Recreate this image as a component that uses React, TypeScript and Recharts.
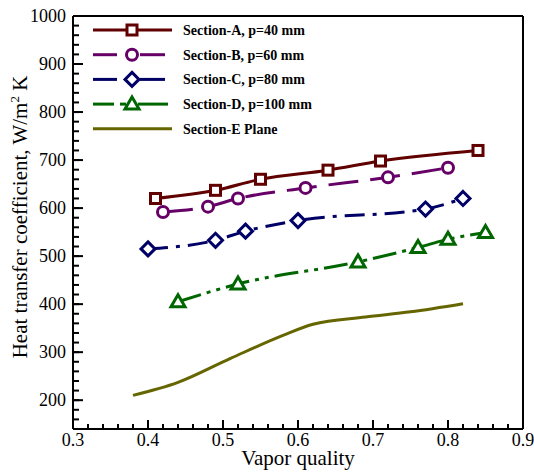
import React from "react"
import { LineChart, Line, XAxis, YAxis, ReferenceLine } from "recharts"

// axis ticks
const xMajor = [0.3, 0.4, 0.5, 0.6, 0.7, 0.8, 0.9]
const yMajor = [200, 300, 400, 500, 600, 700, 800, 900, 1000]

// Section-A, p=40 mm
const aX = [0.41, 0.49, 0.55, 0.64, 0.71, 0.84]
const aY = [620, 637, 660, 679, 698, 720]
// Section-B, p=60 mm
const bX = [0.42, 0.48, 0.52, 0.61, 0.72, 0.8]
const bY = [592, 603, 620, 642, 664, 684]
// Section-C, p=80 mm
const cX = [0.4, 0.49, 0.53, 0.6, 0.77, 0.82]
const cY = [515, 533, 552, 574, 598, 620]
// Section-D, p=100 mm
const dX = [0.44, 0.52, 0.68, 0.76, 0.8, 0.85]
const dY = [405, 442, 488, 518, 535, 549]
// Section-E Plane
const eX = [0.38, 0.44, 0.51, 0.58, 0.62, 0.69, 0.75, 0.82]
const eY = [210, 237, 287, 335, 358, 373, 384, 401]

const FONT = "Liberation Serif, Times New Roman, serif"

const zip = (xs: number[], ys: number[]) => xs.map((x, i) => ({ x, y: ys[i] }))

const series = [
  { name: "Section-A, p=40 mm", color: "#600000", dash: undefined, marker: "square", data: zip(aX, aY) },
  { name: "Section-B, p=60 mm", color: "#660066", dash: "30 12", marker: "circle", data: zip(bX, bY) },
  { name: "Section-C, p=80 mm", color: "#000066", dash: "20 8 4 8", marker: "diamond", data: zip(cX, cY) },
  { name: "Section-D, p=100 mm", color: "#006600", dash: "24 6 4 6 4 6", marker: "triangle", data: zip(dX, dY) },
  { name: "Section-E Plane", color: "#666600", dash: undefined, marker: "none", data: zip(eX, eY) },
]

// minor ticks in between the labelled ones
const xTicks: number[] = []
for (let i = 0; i <= 30; i++) xTicks.push(+(0.3 + i * 0.02).toFixed(2))
const yTicks: number[] = []
for (let v = 160; v <= 1000; v += 20) yTicks.push(v)

const isMajorX = (v: number) => xMajor.some((m) => Math.abs(m - v) < 1e-6)
const isMajorY = (v: number) => yMajor.includes(v)

function Marker({ cx, cy, shape, color }: { cx: number; cy: number; shape: string; color: string }) {
  if (cx == null || cy == null) return null
  if (shape === "square")
    return <rect x={cx - 5} y={cy - 5} width={10} height={10} fill="#fff" stroke={color} strokeWidth={3} />
  if (shape === "circle") return <circle cx={cx} cy={cy} r={5.5} fill="#fff" stroke={color} strokeWidth={3} />
  if (shape === "diamond")
    return (
      <polygon
        points={`${cx},${cy - 7} ${cx + 7},${cy} ${cx},${cy + 7} ${cx - 7},${cy}`}
        fill="#fff"
        stroke={color}
        strokeWidth={3}
      />
    )
  if (shape === "triangle")
    return (
      <polygon
        points={`${cx},${cy - 7} ${cx + 7},${cy + 5} ${cx - 7},${cy + 5}`}
        fill="#fff"
        stroke={color}
        strokeWidth={3}
      />
    )
  return null
}

// inward tick lines come from tickSize < 0; the renderer adds the longer major ones and the labels
// eslint-disable-next-line @typescript-eslint/no-explicit-any
const renderXTick = (props: any) => {
  const { x, y, payload, index } = props
  if (!isMajorX(payload.value)) return <g key={`xt-${index}`} />
  return (
    <g key={`xt-${index}`}>
      <line x1={x} x2={x} y1={y} y2={y - 9} stroke="#000" strokeWidth={2} />
      <text x={x} y={y + 17} textAnchor="middle" fontSize={18} fontFamily={FONT} fill="#000">
        {payload.value.toFixed(1)}
      </text>
    </g>
  )
}

// eslint-disable-next-line @typescript-eslint/no-explicit-any
const renderYTick = (props: any) => {
  const { x, y, payload, index } = props
  if (!isMajorY(payload.value)) return <g key={`yt-${index}`} />
  return (
    <g key={`yt-${index}`}>
      <line x1={x} x2={x + 10} y1={y} y2={y} stroke="#000" strokeWidth={2} />
      <text x={x - 7} y={y + 6} textAnchor="end" fontSize={18} fontFamily={FONT} fill="#000">
        {payload.value}
      </text>
    </g>
  )
}

// legend and axis titles, drawn over the chart
const Overlay = () => (
  <svg width={534} height={472} style={{ position: "absolute", left: 0, top: 0, pointerEvents: "none" }}>
    <g transform="translate(88, 18)">
      {series.map((s, i) => {
        const cy = 12 + i * 24.7
        const tri = s.marker === "triangle"
        return (
          <g key={s.name}>
            {s.marker === "none" || s.marker === "square" ? (
              <line x1={5} x2={84} y1={cy} y2={cy} stroke={s.color} strokeWidth={3} />
            ) : (
              <>
                <line x1={5} x2={tri ? 26 : 29} y1={cy} y2={cy} stroke={s.color} strokeWidth={3} />
                {tri && <line x1={32} x2={38} y1={cy} y2={cy} stroke={s.color} strokeWidth={3} />}
                <line x1={tri ? 50 : 52} x2={tri ? 80 : 77} y1={cy} y2={cy} stroke={s.color} strokeWidth={3} />
              </>
            )}
            <Marker cx={44} cy={cy} shape={s.marker} color={s.color} />
            <text x={95} y={cy + 5} fontSize={14} fontWeight="bold" fontFamily={FONT} fill="#000">
              {s.name}
            </text>
          </g>
        )
      })}
    </g>
    <text x={298} y={465} textAnchor="middle" fontSize={21} fontFamily={FONT} fill="#000">
      Vapor quality
    </text>
    <text
      x={27}
      y={217}
      transform="rotate(-90, 27, 217)"
      textAnchor="middle"
      fontSize={21}
      fontFamily={FONT}
      fill="#000"
    >
      Heat transfer coefficient, W/m
      <tspan dy={-8} fontSize={13}>2</tspan>
      <tspan dy={8}> K</tspan>
    </text>
  </svg>
)

export default function App() {
  return (
    <div style={{ position: "absolute", left: 0, top: 0, width: 534, height: 472, background: "#fff" }}>
      <LineChart width={534} height={472} margin={{ top: 16, right: 11, left: 0, bottom: 0 }}>
        <XAxis
          type="number"
          dataKey="x"
          domain={[0.3, 0.9]}
          ticks={xTicks}
          interval={0}
          height={43}
          tickSize={-5}
          tickMargin={5}
          tickLine={{ stroke: "#000", strokeWidth: 2 }}
          tick={renderXTick}
          axisLine={{ stroke: "#000", strokeWidth: 2 }}
        />
        <YAxis
          type="number"
          dataKey="y"
          domain={[140, 1000]}
          ticks={yTicks}
          interval={0}
          width={73}
          tickSize={-6}
          tickMargin={6}
          tickLine={{ stroke: "#000", strokeWidth: 2 }}
          tick={renderYTick}
          axisLine={{ stroke: "#000", strokeWidth: 2 }}
        />
        <ReferenceLine y={1000} stroke="#000" strokeWidth={2} />
        <ReferenceLine x={0.9} stroke="#000" strokeWidth={2} />
        {series.map((s) => (
          <Line
            key={s.name}
            data={s.data}
            dataKey="y"
            name={s.name}
            type="monotone"
            stroke={s.color}
            strokeWidth={3}
            strokeDasharray={s.dash}
            isAnimationActive={false}
            // eslint-disable-next-line @typescript-eslint/no-explicit-any
            dot={(p: any) => (
              <Marker key={`${s.name}-${p.index}`} cx={p.cx} cy={p.cy} shape={s.marker} color={s.color} />
            )}
            activeDot={false}
          />
        ))}
      </LineChart>
      <Overlay />
    </div>
  )
}
